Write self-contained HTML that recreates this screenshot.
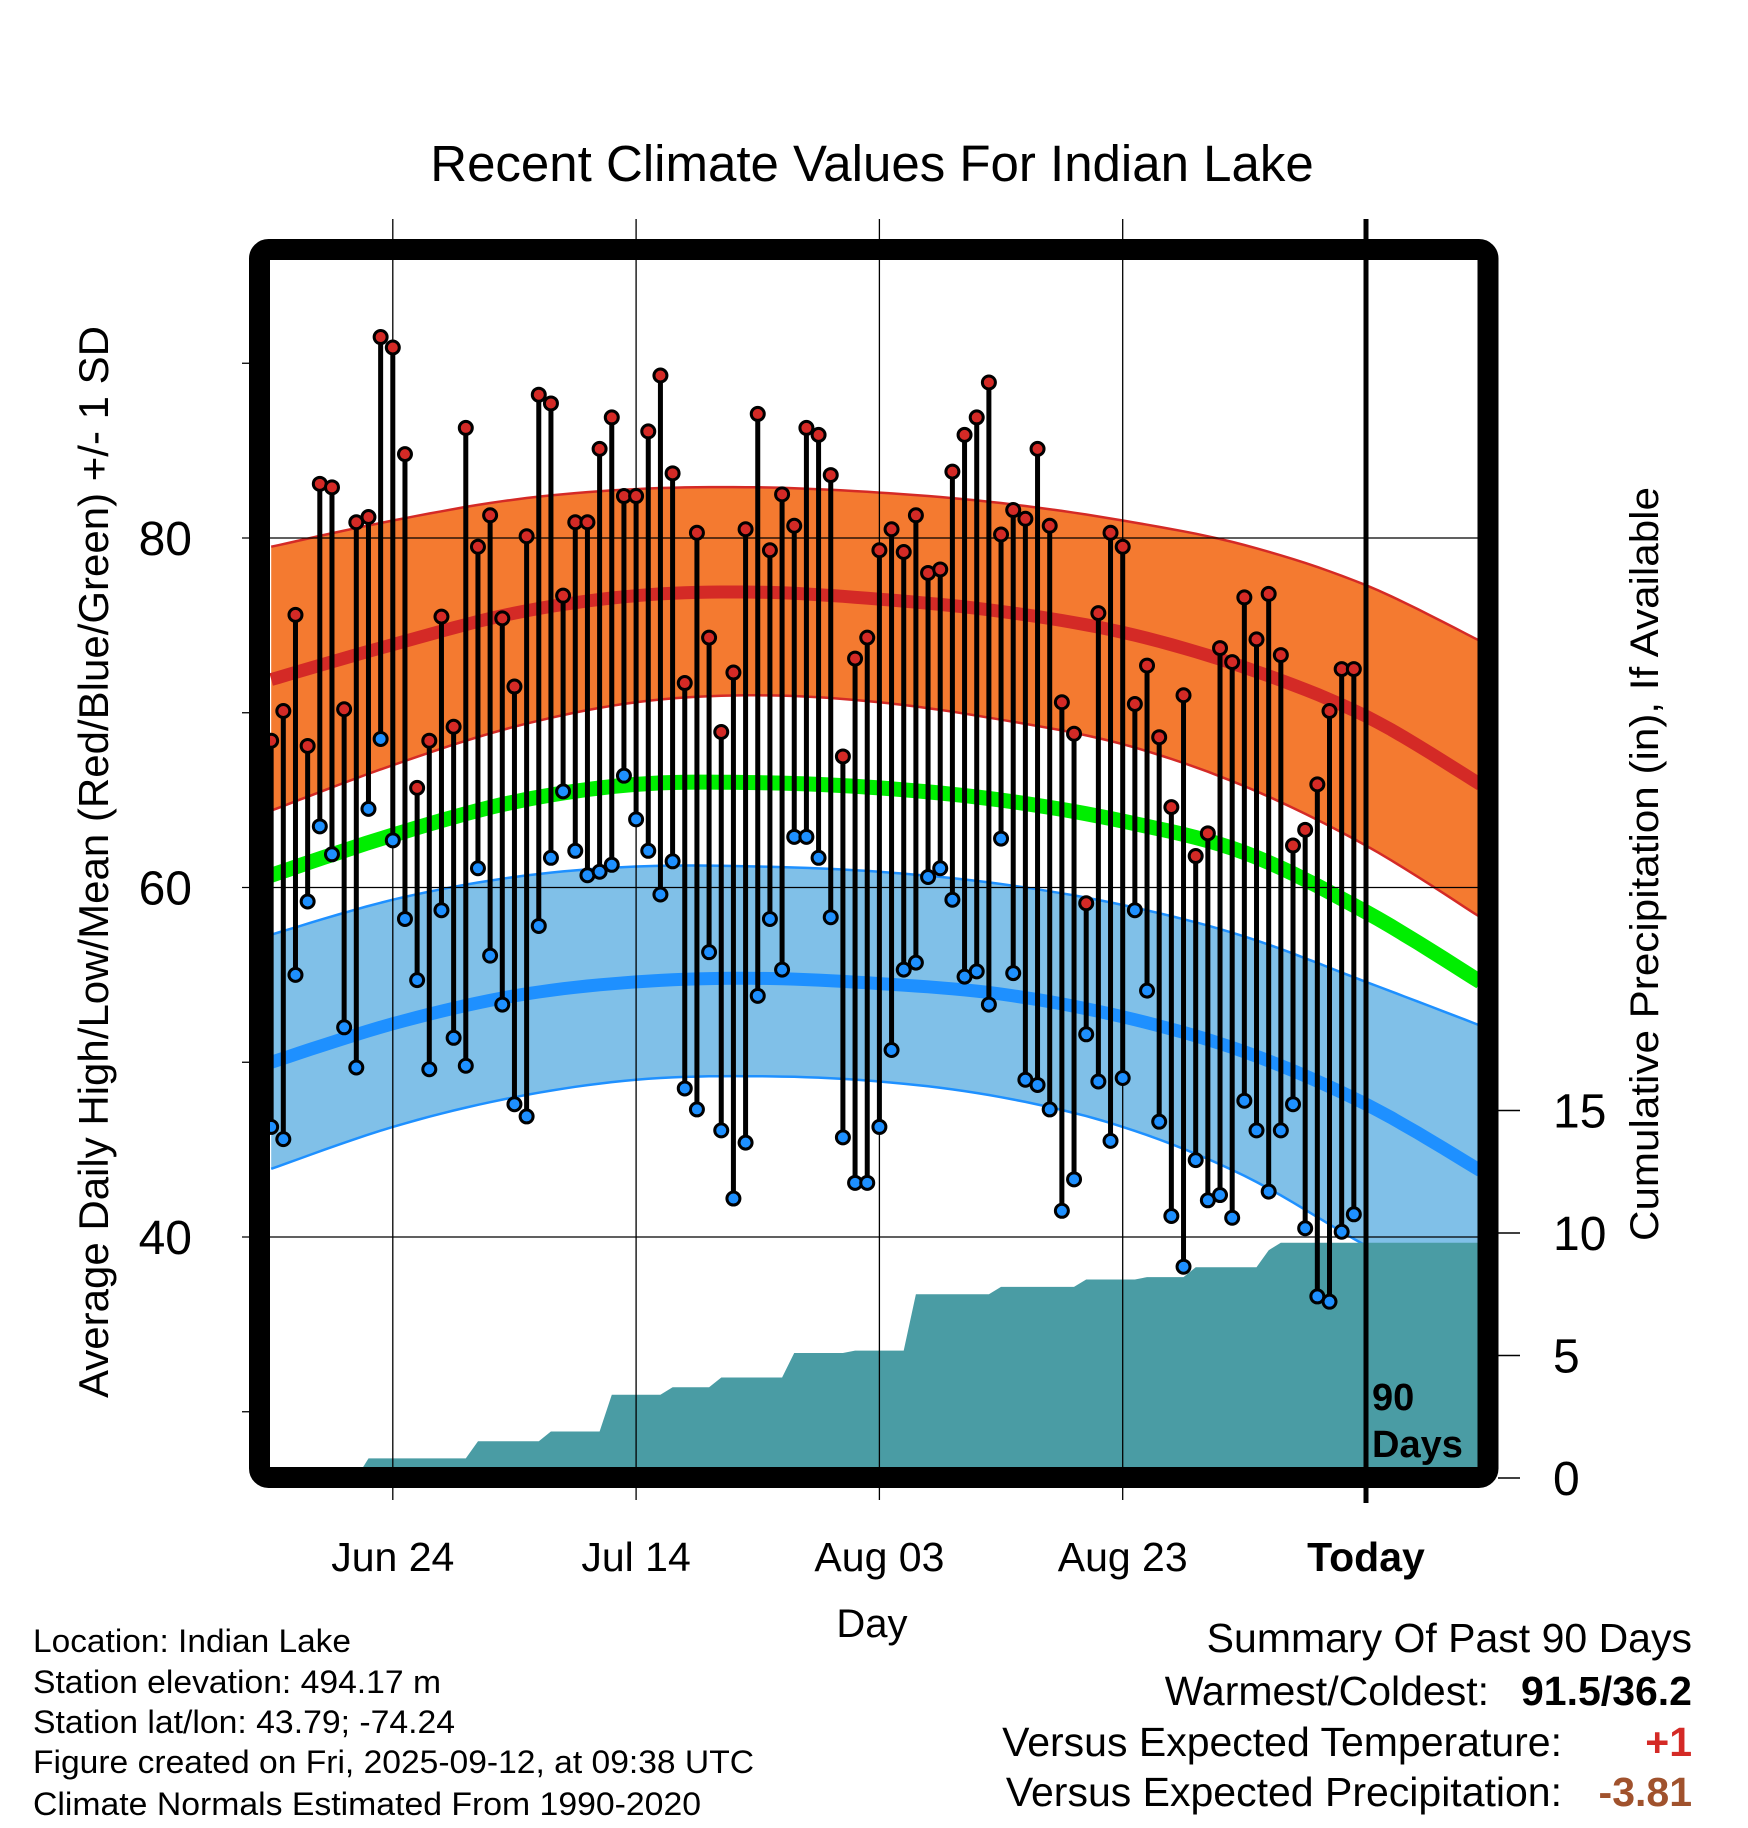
<!DOCTYPE html>
<html><head><meta charset="utf-8"><style>
html,body{margin:0;padding:0;background:#fff;}
svg{display:block;font-family:"Liberation Sans",Arial,sans-serif;}
</style></head><body>
<svg id="chart" width="1748" height="1828" viewBox="0 0 1748 1828" xmlns="http://www.w3.org/2000/svg">
<rect width="1748" height="1828" fill="#fff"/>
<text x="872" y="181" font-size="51" text-anchor="middle">Recent Climate Values For Indian Lake</text>
<g id="bands"></g>
<g id="precip"></g>
<g id="grid"></g>
<g id="temps"></g>
<g id="frame"></g>
<g id="axes"></g>
<text x="872" y="1637" font-size="40" text-anchor="middle">Day</text>
<text transform="translate(108,862) rotate(-90)" font-size="42" text-anchor="middle" textLength="1072" lengthAdjust="spacingAndGlyphs">Average Daily High/Low/Mean (Red/Blue/Green) +/- 1 SD</text>
<text transform="translate(1658,864) rotate(-90)" font-size="40" text-anchor="middle" textLength="754" lengthAdjust="spacingAndGlyphs">Cumulative Precipitation (in), If Available</text>
<g font-size="32">
<text x="33" y="1652" textLength="318" lengthAdjust="spacingAndGlyphs">Location: Indian Lake</text>
<text x="33" y="1693" textLength="408" lengthAdjust="spacingAndGlyphs">Station elevation: 494.17 m</text>
<text x="33" y="1733" textLength="422" lengthAdjust="spacingAndGlyphs">Station lat/lon: 43.79; -74.24</text>
<text x="33" y="1773" textLength="721" lengthAdjust="spacingAndGlyphs">Figure created on Fri, 2025-09-12, at 09:38 UTC</text>
<text x="33" y="1815" textLength="668" lengthAdjust="spacingAndGlyphs">Climate Normals Estimated From 1990-2020</text>
</g>
<g font-size="41">
<text x="1692" y="1652" text-anchor="end">Summary Of Past 90 Days</text>
<text x="1489" y="1705" text-anchor="end">Warmest/Coldest:</text>
<text x="1692" y="1705" text-anchor="end" font-weight="bold">91.5/36.2</text>
<text x="1562" y="1756" text-anchor="end">Versus Expected Temperature:</text>
<text x="1692" y="1756" text-anchor="end" font-weight="bold" fill="#d42a26">+1</text>
<text x="1562" y="1806" text-anchor="end">Versus Expected Precipitation:</text>
<text x="1692" y="1806" text-anchor="end" font-weight="bold" fill="#a0522d">-3.81</text>
</g>
</svg>
<script>
// normals sampled at these relative days (days before/after today)
const normDays = [-90,-80,-70,-60,-50,-40,-30,-20,-10,0,9.4];
const highUpper = [79.5,81.0,82.2,82.8,82.9,82.6,82.0,81.0,79.6,77.3,74.1];
const highMean  = [71.9,73.9,75.7,76.7,76.9,76.5,75.8,74.6,72.6,69.8,65.9];
const highLower = [64.4,67.0,69.2,70.6,71.0,70.6,69.6,68.2,65.8,62.4,58.3];
const meanNorm  = [60.7,63.0,64.9,65.9,66.0,65.7,65.0,63.8,62.0,58.6,54.6];
const lowUpper  = [57.3,59.3,60.6,61.2,61.2,60.9,60.2,59.0,57.2,54.6,52.1];
const lowMean   = [50.0,52.2,53.8,54.6,54.8,54.5,53.9,52.6,50.6,47.6,43.8];
const lowLower  = [43.9,46.3,48.0,49.0,49.2,48.9,48.0,46.3,43.5,39.5,36.0];
// daily observations, oldest first (day -90 .. -1)
const highs = [68.4,70.1,75.6,68.1,83.1,82.9,70.2,80.9,81.2,91.5,90.9,84.8,65.7,68.4,75.5,69.2,86.3,79.5,81.3,75.4,71.5,80.1,88.2,87.7,76.7,80.9,80.9,85.1,86.9,82.4,82.4,86.1,89.3,83.7,71.7,80.3,74.3,68.9,72.3,80.5,87.1,79.3,82.5,80.7,86.3,85.9,83.6,67.5,73.1,74.3,79.3,80.5,79.2,81.3,78.0,78.2,83.8,85.9,86.9,88.9,80.2,81.6,81.1,85.1,80.7,70.6,68.8,59.1,75.7,80.3,79.5,70.5,72.7,68.6,64.6,71.0,61.8,63.1,73.7,72.9,76.6,74.2,76.8,73.3,62.4,63.3,65.9,70.1,72.5,72.5];
const lows = [46.3,45.6,55.0,59.2,63.5,61.9,52.0,49.7,64.5,68.5,62.7,58.2,54.7,49.6,58.7,51.4,49.8,61.1,56.1,53.3,47.6,46.9,57.8,61.7,65.5,62.1,60.7,60.9,61.3,66.4,63.9,62.1,59.6,61.5,48.5,47.3,56.3,46.1,42.2,45.4,53.8,58.2,55.3,62.9,62.9,61.7,58.3,45.7,43.1,43.1,46.3,50.7,55.3,55.7,60.6,61.1,59.3,54.9,55.2,53.3,62.8,55.1,49.0,48.7,47.3,41.5,43.3,51.6,48.9,45.5,49.1,58.7,54.1,46.6,41.2,38.3,44.4,42.1,42.4,41.1,47.8,46.1,42.6,46.1,47.6,40.5,36.6,36.3,40.3,41.3];
// cumulative precipitation (in) at relative days
const precipDays = [-90,-83,-82,-74,-73,-68,-67,-63,-62,-58,-57,-54,-53,-48,-47,-43,-42,-38,-37,-31,-30,-24,-23,-19,-18,-15,-14,-9,-8,-7,9.4];
const precipTotals = [0,0,0.8,0.8,1.5,1.5,1.9,1.9,3.4,3.4,3.7,3.7,4.1,4.1,5.1,5.1,5.2,5.2,7.5,7.5,7.8,7.8,8.1,8.1,8.2,8.2,8.6,8.6,9.3,9.6,9.6];
const tempTicks = [40,60,80];
const tempMinor = [30,50,70,90];
const precipTicks = [0,5,10,15];
const dateTickDays = [-80,-60,-40,-20,0];
const dateTickLabels = ["Jun 24","Jul 14","Aug 03","Aug 23","Today"];

const NS="http://www.w3.org/2000/svg";
const L=270,R=1478,T=260,B=1468;
const xS=d=>1366+d*12.165;
const yT=t=>1237-(t-40)*17.475;
const yP=p=>1478-p*24.5;
function mk(tag,attrs,parent){const e=document.createElementNS(NS,tag);for(const k in attrs)e.setAttribute(k,attrs[k]);parent.appendChild(e);return e;}
function curvePts(vals){const pts=normDays.map((d,i)=>[xS(d),yT(vals[i])]);const out=[];
 for(let i=0;i<pts.length-1;i++){const p0=pts[Math.max(0,i-1)],p1=pts[i],p2=pts[i+1],p3=pts[Math.min(pts.length-1,i+2)];
  for(let s=0;s<10;s++){const t=s/10,t2=t*t,t3=t2*t;
   const f=(a,b,c,d)=>0.5*((2*b)+(-a+c)*t+(2*a-5*b+4*c-d)*t2+(-a+3*b-3*c+d)*t3);
   out.push([f(p0[0],p1[0],p2[0],p3[0]),f(p0[1],p1[1],p2[1],p3[1])]);}}
 out.push(pts[pts.length-1]);return out;}
const toS=p=>p.map(q=>q[0].toFixed(1)+","+q[1].toFixed(1)).join(" ");
const defs=mk('defs',{},document.getElementById('chart'));
const cp=mk('clipPath',{id:'plotclip'},defs);mk('rect',{x:L,y:T,width:R-L,height:B-T},cp);
const bands=document.getElementById('bands');bands.setAttribute('clip-path','url(#plotclip)');
function band(up,lo,fill,edge,name){const a=curvePts(up),b=curvePts(lo).reverse();
 const p=mk('polygon',{points:toS(a.concat(b)),fill:fill},bands);
 
 
 const e1=mk('polyline',{points:toS(a),fill:'none',stroke:edge,'stroke-width':2.5},bands);
 
 
 const e2=mk('polyline',{points:toS(curvePts(lo)),fill:'none',stroke:edge,'stroke-width':2.5},bands);
 
 }
band(highUpper,highLower,'#f47a30','#d42a26','high-sd-band');
band(lowUpper,lowLower,'#80c0e8','#1e90ff','low-sd-band');
function line(vals,color,w,name){const l=mk('polyline',{points:toS(curvePts(vals)),fill:'none',stroke:color,'stroke-width':w},bands);
 
 }
line(highMean,'#d42a26',13,'normal-high-line');
line(meanNorm,'#00ee00',15,'normal-mean-line');
line(lowMean,'#1e90ff',13,'normal-low-line');
const pg=document.getElementById('precip');pg.setAttribute('clip-path','url(#plotclip)');
const pp=precipDays.map((d,i)=>[xS(d),yP(precipTotals[i])]);
pp.push([xS(precipDays[precipDays.length-1]),yP(0)]);pp.push([xS(precipDays[0]),yP(0)]);
const pa=mk('polygon',{points:toS(pp),fill:'#4a9ca4'},pg);


const g=document.getElementById('grid');
tempTicks.forEach(t=>{const l=mk('line',{x1:242,x2:R,y1:yT(t),y2:yT(t),stroke:'#000','stroke-width':1.3},g);
 
 });
dateTickDays.forEach((d,i)=>{if(d===0)return;const l=mk('line',{x1:xS(d),x2:xS(d),y1:219,y2:1500,stroke:'#000','stroke-width':1.3},g);
 
 });
const tg=document.getElementById('temps');
highs.forEach((h,i)=>{const d=-90+i,x=xS(d);
 const s=mk('line',{x1:x,x2:x,y1:yT(h),y2:yT(lows[i]),stroke:'#000','stroke-width':5},tg);
 
 });
highs.forEach((h,i)=>{const x=xS(-90+i);
 const c1=mk('circle',{cx:x,cy:yT(h),r:6.5,fill:'#d42a26',stroke:'#000','stroke-width':3},tg);
 
 
 const c2=mk('circle',{cx:x,cy:yT(lows[i]),r:6.5,fill:'#1e90ff',stroke:'#000','stroke-width':3},tg);
 
 });
const fg=document.getElementById('frame');
const fr=mk('rect',{x:259.5,y:249.5,width:1228.5,height:1228,rx:9,fill:'none',stroke:'#000','stroke-width':21},fg);


const tl=mk('line',{x1:xS(0),x2:xS(0),y1:219,y2:1503,stroke:'#000','stroke-width':5},fg);


const d1=mk('text',{x:1372,y:1410,'font-size':38,'font-weight':'bold'},fg);d1.textContent='90';


const d2=mk('text',{x:1372,y:1457,'font-size':38,'font-weight':'bold'},fg);d2.textContent='Days';


const ag=document.getElementById('axes');
tempTicks.forEach(t=>{const e=mk('text',{x:192,y:yT(t)+17,'font-size':48,'text-anchor':'end'},ag);e.textContent=t;
 
 });
tempMinor.forEach(t=>{const e=mk('line',{x1:242,x2:252,y1:yT(t),y2:yT(t),stroke:'#000','stroke-width':1.3},ag);
 
 });
precipTicks.forEach(p=>{const e=mk('line',{x1:1498,x2:1520,y1:yP(p),y2:yP(p),stroke:'#000','stroke-width':1.5},ag);
 
 
 const t=mk('text',{x:1553,y:yP(p)+17,'font-size':48},ag);t.textContent=p;
 
 });
dateTickDays.forEach((d,i)=>{const t=mk('text',{x:xS(d),y:1571,'font-size':41,'text-anchor':'middle'},ag);
 if(d===0)t.setAttribute('font-weight','bold');
 t.textContent=dateTickLabels[i];
 
 });
</script>
</body></html>
